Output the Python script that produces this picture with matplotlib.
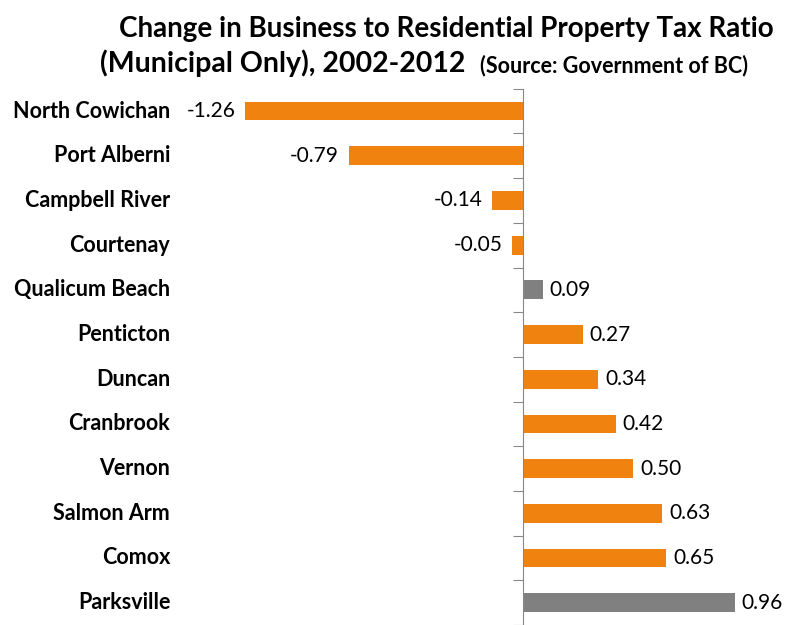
import numpy as np
import matplotlib.pyplot as plt
import matplotlib.transforms as mtransforms

plt.rcParams['font.family'] = ['Lato', 'DejaVu Sans']

cities = ['North Cowichan', 'Port Alberni', 'Campbell River', 'Courtenay', 'Qualicum Beach',
          'Penticton', 'Duncan', 'Cranbrook', 'Vernon', 'Salmon Arm', 'Comox', 'Parksville']
change = [-1.26, -0.79, -0.14, -0.05, 0.09, 0.27, 0.34, 0.42, 0.50, 0.63, 0.65, 0.96]
grey_cities = ['Qualicum Beach', 'Parksville']

orange = '#F0820F'
grey = '#808080'
colors = [grey if c in grey_cities else orange for c in cities]

fig = plt.figure(figsize=(7.88, 6.25), dpi=100)
ax = fig.add_axes([0.23, 0.0, 0.75, 0.858])
y = np.arange(len(cities))
ax.barh(y, change, height=0.42, color=colors)
ax.set_ylim(len(cities) - 0.5, -0.5)
ax.set_xlim(-1.549, 1.130)

for s in ['top', 'right', 'bottom']:
    ax.spines[s].set_visible(False)
ax.spines['left'].set_position(('data', 0))
ax.spines['left'].set_color('#888888')
ax.set_xticks([])
ax.set_yticks(np.arange(len(cities) + 1) - 0.5)
ax.set_yticklabels([])
ax.tick_params(axis='y', direction='out', length=7, color='#888888')

for yi, v in zip(y, change):
    if v < 0:
        ax.annotate('%.2f' % v, (v, yi), xytext=(-7, 0), textcoords='offset points',
                    ha='right', va='center', fontsize=15)
    else:
        ax.annotate('%.2f' % v, (v, yi), xytext=(5, 0), textcoords='offset points',
                    ha='left', va='center', fontsize=15)

trans = mtransforms.blended_transform_factory(fig.transFigure, ax.transData)
for yi, c in zip(y, cities):
    ax.text(0.216, yi, c, transform=trans, ha='right', va='center', fontsize=15.5, fontweight='bold')

fig.text(0.566, 0.941, 'Change in Business to Residential Property Tax Ratio',
         ha='center', va='baseline', fontsize=20, fontweight='bold')
fig.text(0.127, 0.885, '(Municipal Only), 2002-2012', ha='left', va='baseline',
         fontsize=20.5, fontweight='bold')
fig.text(0.609, 0.885, '(Source: Government of BC)', ha='left', va='baseline',
         fontsize=15.5, fontweight='bold')

fig.savefig('out.png')
